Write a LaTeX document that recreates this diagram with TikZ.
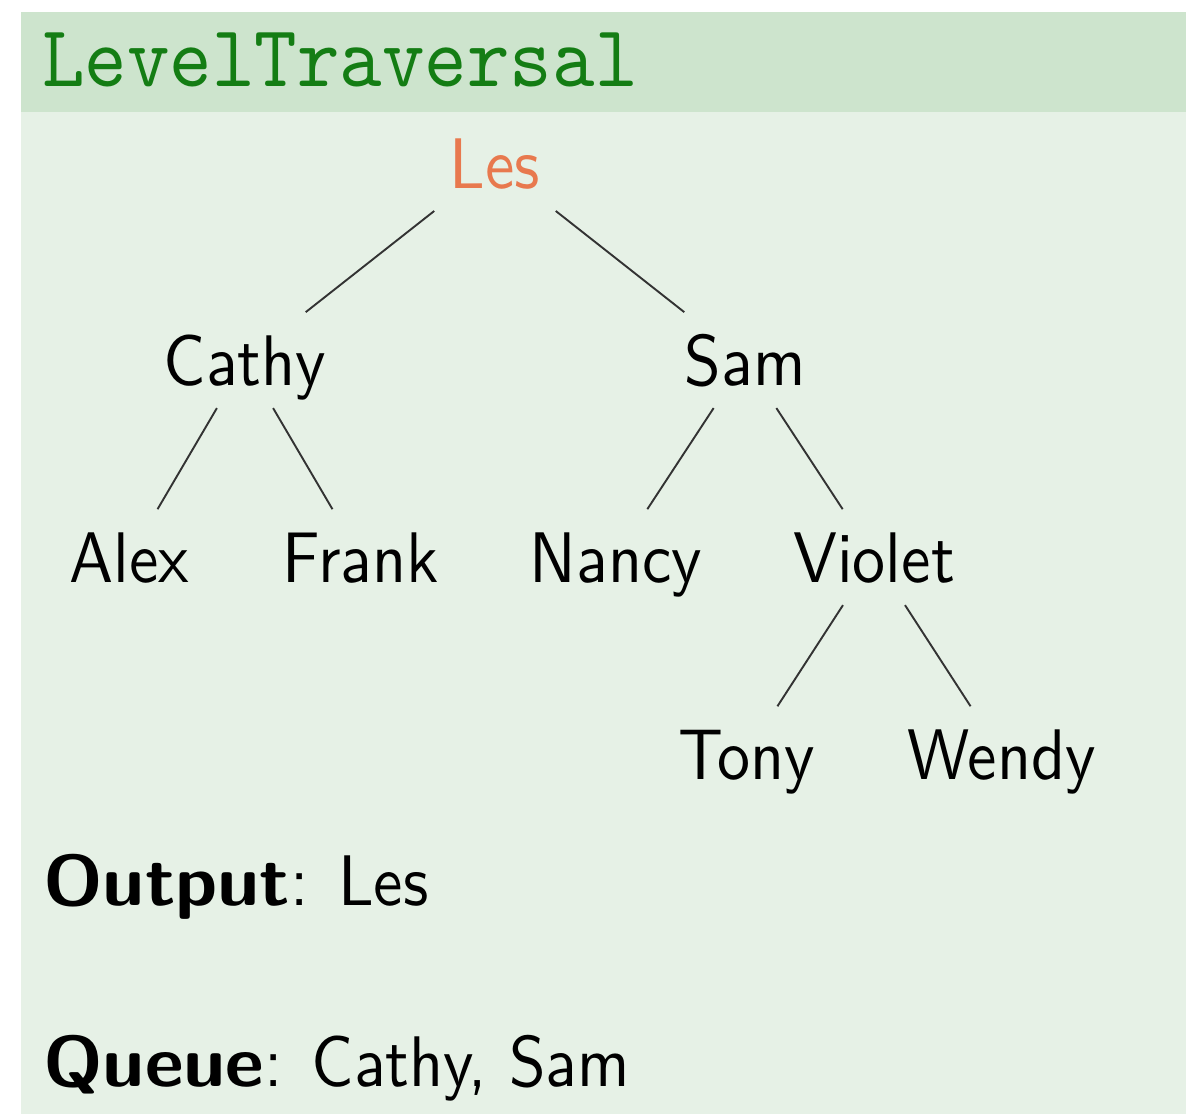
\documentclass[tikz,border=0pt]{standalone}
\usepackage{fontspec}
\setsansfont{lmsans10-regular.otf}[BoldFont=lmsans10-bold.otf,BoldFeatures={FakeStretch=1.14}]
\setmonofont{lmmono10-regular.otf}
\definecolor{blockhead}{RGB}{205,228,205}
\definecolor{blockbody}{RGB}{230,241,230}
\definecolor{titlegreen}{RGB}{20,125,20}
\definecolor{visited}{RGB}{232,121,78}
\begin{document}
\begin{tikzpicture}[x=1pt,y=-0.9217pt,yscale=1.085,
	every node/.style={transform shape,text height=46pt,text depth=0pt,inner sep=21pt,
		font=\fontsize{66}{79}\selectfont\sffamily},
	level/.style={level distance=181.6pt},
	level 1/.style={sibling distance=500pt},
	level 2/.style={sibling distance=231pt},
	level 3/.style={sibling distance=255pt},
	edge from parent/.style={draw,black!80,line width=1.9pt},
	plain/.style={inner sep=0pt,anchor=base west}]
\useasboundingbox (0,0) rectangle (1186,1116);
% block
\fill[blockbody] (21,112) rectangle (1186,1114);
\fill[blockhead] (21,12) rectangle (1186,112);
\node[plain,font=\fontsize{81}{97}\selectfont\ttfamily,text=titlegreen] (title) at (42,86) {LevelTraversal};
% tree
\node[text=visited,anchor=base] (les) at (495,188) {Les}
child { node (cathy) {Cathy}
	child { node (alex) {Alex}}
	child { node (frank) {Frank}}
	}
child { node (sam) {Sam}
	child[sibling distance=258pt] { node (nancy) {Nancy}}
	child[sibling distance=258pt] { node (violet) {Violet}
		child { node (tony) {Tony}}
		child { node (wendy) {Wendy}}
		}
	};
% state
\node[plain] (output) at (43,905) {\textbf{Output}: Les};
\node[plain] (queue) at (43,1086) {\textbf{Queue}: Cathy, Sam};
\end{tikzpicture}
\end{document}
